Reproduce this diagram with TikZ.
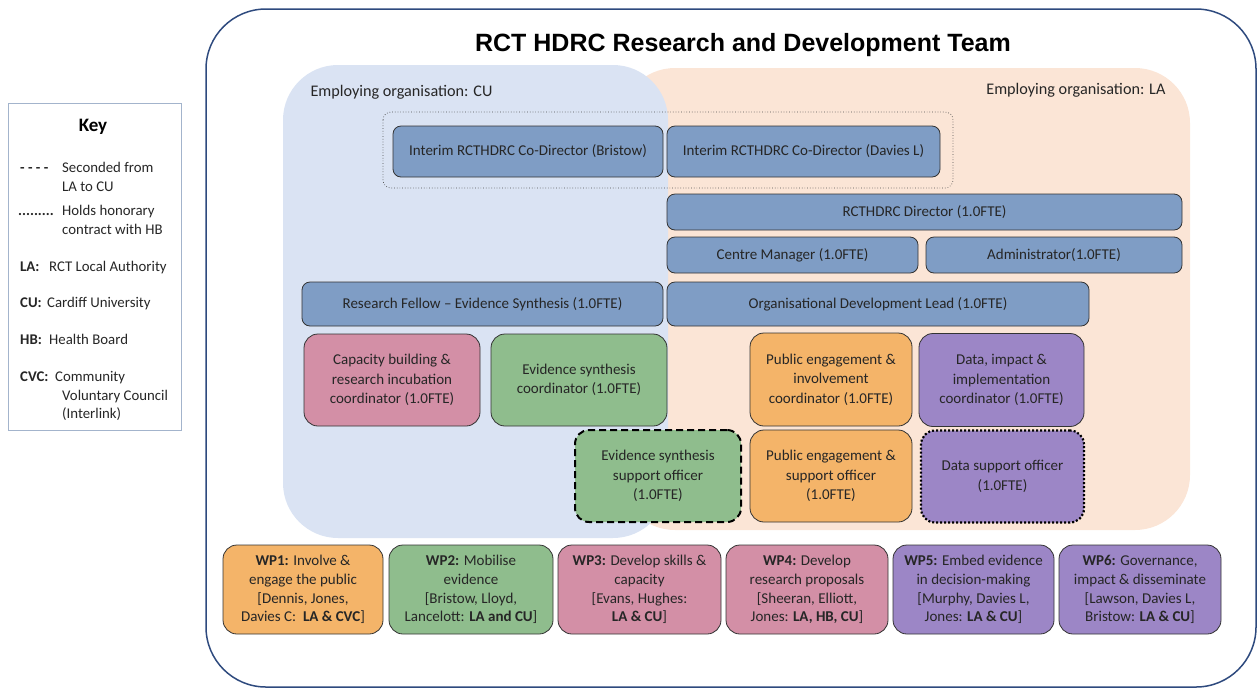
\documentclass[tikz,border=0pt]{standalone}
\usepackage{fontspec}
\setmainfont{Carlito}
\newfontfamily\titlefont{Liberation Sans}
\usetikzlibrary{positioning}
\definecolor{cubg}{HTML}{DAE3F3}
\definecolor{labg}{HTML}{FBE5D6}
\definecolor{bluebox}{HTML}{7F9DC5}
\definecolor{pinkbox}{HTML}{D38FA6}
\definecolor{greenbox}{HTML}{8FBD8D}
\definecolor{orangebox}{HTML}{F4B469}
\definecolor{purplebox}{HTML}{9C86C6}
\definecolor{navy}{HTML}{2E4A7E}
\definecolor{keyborder}{HTML}{A3B4CC}
\definecolor{txt}{HTML}{262626}
\newcommand\bodyfont{\fontsize{15}{19.5}\selectfont}
\newcommand\wpfont{\fontsize{15}{18.8}\selectfont}
\newcommand\keyfont{\fontsize{14.8}{18.5}\selectfont}
\tikzset{
  rolebox/.style={draw=black!80, line width=0.8pt, rounded corners=8pt, align=center, inner sep=2pt, font=\bodyfont, text=txt},
  bigbox/.style={rolebox, rounded corners=14pt},
  wpbox/.style={rolebox, rounded corners=14pt, font=\wpfont},
  keytext/.style={anchor=base west, font=\keyfont, text=txt, inner sep=0pt},
}
\begin{document}
\begin{tikzpicture}[x=1pt,y=-1pt]
\useasboundingbox (0,0) rectangle (1260,689);
% outer team box
\draw[navy, line width=1.5pt, rounded corners=60pt] (206,9) rectangle (1256,687);
\node[font=\titlefont\bfseries\fontsize{25}{28}\selectfont, text=black] (title) at (743,45) {RCT HDRC Research and Development Team};
% employing organisation regions
\fill[labg, rounded corners=55pt] (620,68) rectangle (1190,530);
\fill[cubg, rounded corners=55pt] (283,65) rectangle (668,538);
\node[anchor=west, font=\fontsize{16.2}{19}\selectfont, text=txt] (cu) at (307,92) {Employing organisation: CU};
\node[anchor=east, font=\fontsize{16.2}{19}\selectfont, text=txt] (la) at (1169,90) {Employing organisation: LA};
% honorary container
\draw[black!70, dotted, line width=0.7pt, rounded corners=8pt] (383,112) rectangle (953,188);
% blue boxes
\node[rolebox, fill=bluebox, minimum width=270pt, minimum height=51pt] (codb) at (528,151.5) {Interim RCTHDRC Co-Director (Bristow)};
\node[rolebox, fill=bluebox, minimum width=273pt, minimum height=51pt] (codd) at (803.5,151.5) {Interim RCTHDRC Co-Director (Davies L)};
\node[rolebox, fill=bluebox, minimum width=515pt, minimum height=36pt] (dir) at (924.5,212) {RCTHDRC Director (1.0FTE)};
\node[rolebox, fill=bluebox, minimum width=251pt, minimum height=36pt] (cm) at (792.5,255) {Centre Manager (1.0FTE)};
\node[rolebox, fill=bluebox, minimum width=256pt, minimum height=36pt] (adm) at (1054,255) {Administrator(1.0FTE)};
\node[rolebox, fill=bluebox, minimum width=361pt, minimum height=44pt] (rf) at (482.5,304) {Research Fellow -- Evidence Synthesis (1.0FTE)};
\node[rolebox, fill=bluebox, minimum width=422pt, minimum height=44pt] (odl) at (878,304) {Organisational Development Lead (1.0FTE)};
% coordinators
\node[bigbox, fill=pinkbox, minimum width=176pt, minimum height=92pt] (cap) at (392,380) {Capacity building \&\\research incubation\\coordinator (1.0FTE)};
\node[bigbox, fill=greenbox, minimum width=176pt, minimum height=92pt] (esc) at (579,380) {Evidence synthesis\\coordinator (1.0FTE)};
\node[bigbox, fill=orangebox, minimum width=162pt, minimum height=93pt] (pei) at (831,379.5) {Public engagement \&\\involvement\\coordinator (1.0FTE)};
\node[bigbox, fill=purplebox, minimum width=165pt, minimum height=93pt] (dii) at (1001.5,380) {Data, impact \&\\implementation\\coordinator (1.0FTE)};
% officers
\node[bigbox, fill=greenbox, draw=black, dash pattern=on 7pt off 4pt, line width=2pt, minimum width=166pt, minimum height=92pt] (esso) at (658,476) {Evidence synthesis\\support officer\\(1.0FTE)};
\node[bigbox, fill=orangebox, minimum width=162pt, minimum height=92pt] (pes) at (831,476) {Public engagement \&\\support officer\\(1.0FTE)};
\node[bigbox, fill=purplebox, draw=black, dash pattern=on 2pt off 2pt, line width=2.2pt, minimum width=163pt, minimum height=92pt] (dso) at (1002.5,476.5) {Data support officer\\(1.0FTE)};
% work packages
\node[wpbox, fill=orangebox, minimum width=160pt, minimum height=89pt] (wp1) at (303,589.5) {\textbf{WP1:} Involve \&\\engage the public\\{}[Dennis, Jones,\\Davies C:~ \textbf{LA \& CVC}]};
\node[wpbox, fill=greenbox, minimum width=164pt, minimum height=89pt] (wp2) at (471,589.5) {\textbf{WP2:} Mobilise\\evidence\\{}[Bristow, Lloyd,\\Lancelott: \textbf{LA and CU}]};
\node[wpbox, fill=pinkbox, minimum width=163pt, minimum height=89pt] (wp3) at (639.5,589.5) {\textbf{WP3:} Develop skills \&\\capacity\\{}[Evans, Hughes:\\\textbf{LA \& CU}]};
\node[wpbox, fill=pinkbox, minimum width=162pt, minimum height=89pt] (wp4) at (807,589.5) {\textbf{WP4:} Develop\\research proposals\\{}[Sheeran, Elliott,\\Jones: \textbf{LA, HB, CU}]};
\node[wpbox, fill=purplebox, minimum width=161pt, minimum height=89pt] (wp5) at (973.5,589.5) {\textbf{WP5:} Embed evidence\\in decision-making\\{}[Murphy, Davies L,\\Jones: \textbf{LA \& CU}]};
\node[wpbox, fill=purplebox, minimum width=162pt, minimum height=89pt] (wp6) at (1140,589.5) {\textbf{WP6:} Governance,\\impact \& disseminate\\{}[Lawson, Davies L,\\Bristow: \textbf{LA \& CU}]};
% key
\draw[keyborder, line width=1pt] (8,103) rectangle (181,430);
\node[font=\bfseries\fontsize{19}{22}\selectfont, text=black] (keyt) at (93,127) {Key};
\node[keytext, font=\keyfont\bfseries] (k1s) at (20,172) {- - - -};
\node[keytext] (k1a) at (62,172) {Seconded from};
\node[keytext] (k1b) at (62,191) {LA to CU};
\node[keytext, font=\keyfont\bfseries] (k2s) at (18,215) {.........};
\node[keytext] (k2a) at (62,215) {Holds honorary};
\node[keytext] (k2b) at (62,234) {contract with HB};
\node[keytext, font=\keyfont\bfseries] (k3s) at (20,271) {LA:};
\node[keytext] (k3a) at (49,271) {RCT Local Authority};
\node[keytext, font=\keyfont\bfseries] (k4s) at (20,307) {CU:};
\node[keytext] (k4a) at (47,307) {Cardiff University};
\node[keytext, font=\keyfont\bfseries] (k5s) at (20,344) {HB:};
\node[keytext] (k5a) at (49,344) {Health Board};
\node[keytext, font=\keyfont\bfseries] (k6s) at (20,381) {CVC:};
\node[keytext] (k6a) at (55,381) {Community};
\node[keytext] (k6b) at (62,400) {Voluntary Council};
\node[keytext] (k6c) at (62,418) {(Interlink)};
\end{tikzpicture}
\end{document}
